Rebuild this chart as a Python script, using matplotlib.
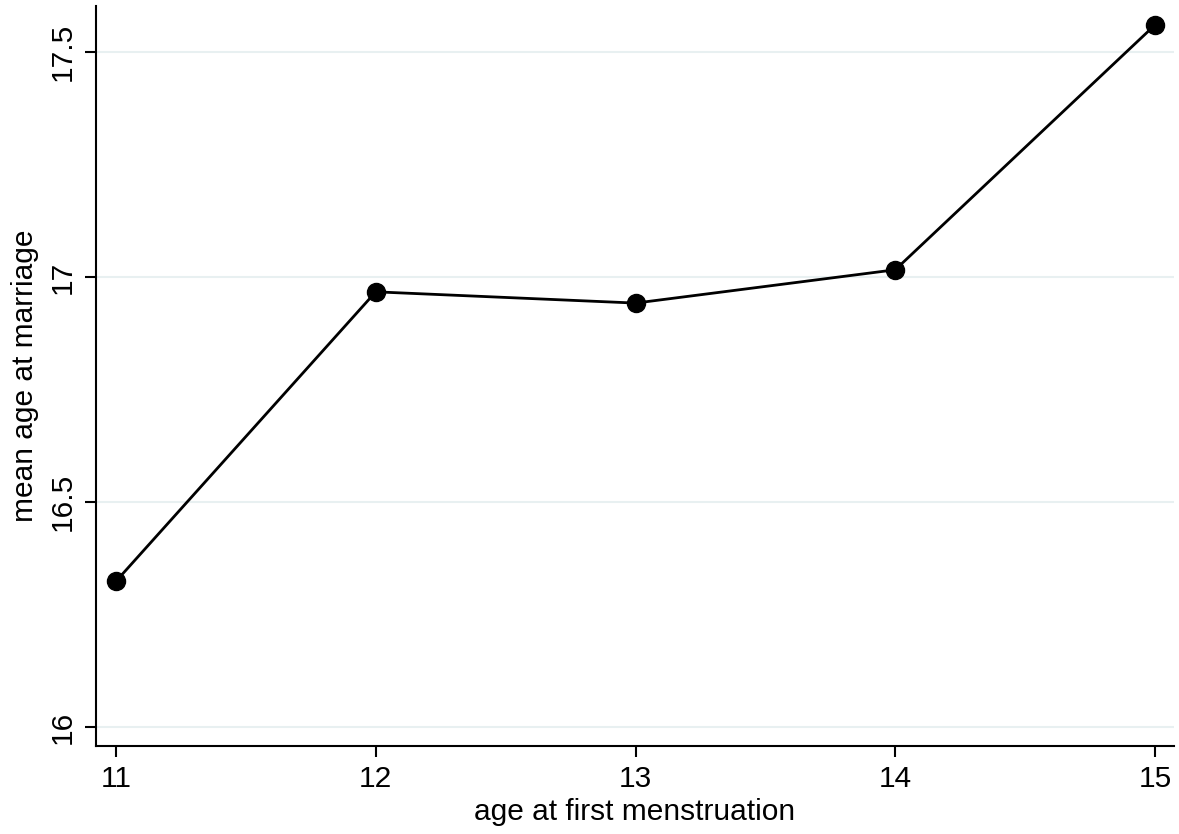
import matplotlib
matplotlib.use("Agg")
import matplotlib.pyplot as plt

age_first_mens = [11, 12, 13, 14, 15]
mean_age_marriage = [16.324, 16.967, 16.942, 17.016, 17.56]
x_ticks = [11, 12, 13, 14, 15]
y_ticks = [16, 16.5, 17, 17.5]
y_tick_labels = ["16", "16.5", "17", "17.5"]

plt.rcParams['font.family'] = ['Liberation Sans', 'DejaVu Sans']
fig = plt.figure(figsize=(11.79, 8.34), dpi=100)
ax = fig.add_axes([96/1179, 88/834, (1174-96)/1179, (746-6)/834])

for yv in y_ticks:
    ax.axhline(yv, color='#e8f0f1', lw=1.5, zorder=0)

ax.plot(age_first_mens, mean_age_marriage, color='black', lw=2.0,
        marker='o', markersize=13, markerfacecolor='black', zorder=3)

ax.set_xlim(10.923, 15.073)
ax.set_ylim(15.958, 17.602)
ax.set_xticks(x_ticks)
ax.set_xticklabels([str(v) for v in x_ticks])
ax.set_yticks(y_ticks)
ax.set_yticklabels(y_tick_labels, rotation=90, va='center')

for s in ['top', 'right']:
    ax.spines[s].set_visible(False)
for s in ['left', 'bottom']:
    ax.spines[s].set_linewidth(1.5)

ax.tick_params(axis='both', direction='out', length=8, width=1.5, labelsize=21.5, pad=6)
ax.set_xlabel('age at first menstruation', fontsize=21.5, labelpad=3)
ax.set_ylabel('mean age at marriage', fontsize=21.5, labelpad=7)

fig.savefig('out.png', dpi=100, facecolor='white')
